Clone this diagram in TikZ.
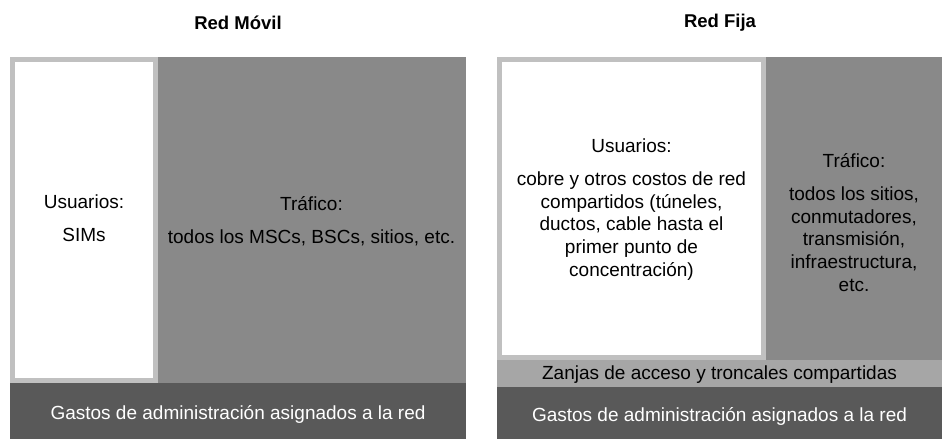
\documentclass[tikz,border=0pt]{standalone}
\usepackage{fontspec}
\setmainfont{Liberation Sans}
\usepackage{tikz}
\usetikzlibrary{positioning}
\definecolor{FrameGray}{RGB}{192, 192, 192}
\definecolor{TrafficGray}{RGB}{137, 137, 137}
\definecolor{AdminGray}{RGB}{89, 89, 89}
\definecolor{TrenchGray}{RGB}{166, 166, 166}

\begin{document}
\begin{tikzpicture}[
        x=1pt, y=-1pt,
        block/.style={rectangle, anchor=north west, inner sep=0pt, outer sep=0pt},
        usrbox/.style={block, fill=white, draw=FrameGray, line width=5pt},
        txt/.style={align=center, font=\fontsize{19}{22.7}\selectfont, inner sep=0pt},
        title/.style={font=\fontsize{18.5}{20}\selectfont\bfseries}
    ]
        \useasboundingbox (0,0) rectangle (942,439);

        % Red Movil
        \node[title] (mtitle) at (238,23) {Red Móvil};
        \node[block, fill=TrafficGray, minimum width=309pt, minimum height=326pt] (mtraf) at (157,57) {};
        \node[usrbox, minimum width=143pt, minimum height=321pt] (musr) at (12.5,59.5) {};
        \node[block, fill=AdminGray, minimum width=456pt, minimum height=56pt] (madm) at (10,383) {};
        \node[txt] at ([yshift=2pt]musr.center) {Usuarios:\\[10pt]SIMs};
        \node[txt] at ([yshift=-1pt]mtraf.center) {Tráfico:\\[10pt]todos los MSCs, BSCs, sitios, etc.};
        \node[txt, text=white] at ([yshift=-3pt]madm.center) {Gastos de administración asignados a la red};

        % Red Fija
        \node[title] (ftitle) at (720,23) {Red Fija};
        \node[block, fill=TrafficGray, minimum width=176pt, minimum height=303pt] (ftraf) at (766,57) {};
        \node[usrbox, minimum width=264pt, minimum height=298pt] (fusr) at (499.5,59.5) {};
        \node[block, fill=TrenchGray, minimum width=445pt, minimum height=27pt] (fzan) at (497,360) {};
        \node[block, fill=AdminGray, minimum width=445pt, minimum height=52pt] (fadm) at (497,387) {};
        \node[txt] at ([yshift=-1pt]fusr.center) {Usuarios:\\[10pt]cobre y otros costos de red\\compartidos (túneles,\\ductos, cable hasta el\\primer punto de\\concentración)};
        \node[txt] at ([yshift=-14pt]ftraf.center) {Tráfico:\\[10pt]todos los sitios,\\conmutadores,\\transmisión,\\infraestructura,\\etc.};
        \node[txt] at ([yshift=-1pt]fzan.center) {Zanjas de acceso y troncales compartidas};
        \node[txt, text=white] at ([yshift=-3pt]fadm.center) {Gastos de administración asignados a la red};
    \end{tikzpicture}
\end{document}
